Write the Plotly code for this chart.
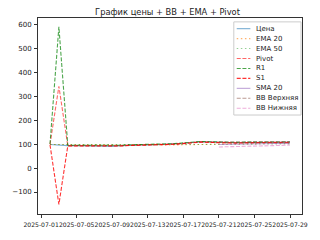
import plotly.graph_objects as go

dates = ["2025-07-%02d" % d for d in range(2, 30)]

price = [99, 96, 94, 94, 93.5, 93, 92, 91, 94, 96, 96.5, 97, 97.5, 99, 101, 104,
         107, 110, 109, 107, 106, 106, 107, 107, 108, 107, 108, 108]
ema20 = [99, 98.71, 98.26, 97.86, 97.44, 97.02, 96.54, 96.01, 95.82, 95.84, 95.90,
         96.00, 96.15, 96.42, 96.86, 97.54, 98.44, 99.54, 100.44, 101.06, 101.53,
         101.96, 102.44, 102.87, 103.36, 103.71, 104.12, 104.49]
ema50 = [99, 98.88, 98.69, 98.49, 98.29, 98.08, 97.85, 97.58, 97.44, 97.38, 97.35,
         97.34, 97.35, 97.41, 97.55, 97.80, 98.17, 98.64, 99.07, 99.39, 99.65, 99.91,
         100.19, 100.45, 100.75, 100.99, 101.25, 101.49]
pivot = [99, 342, 94, 94, 93.5, 93, 92, 91, 94, 96, 96.5, 97, 97.5, 99, 101, 104,
         107, 110, 109, 107, 106, 106, 107, 107, 108, 107, 108, 108]
r1 = [100.5, 591, 95.5, 95.5, 95, 94.5, 93.5, 92.5, 95.5, 97.5, 98, 98.5, 99, 100.5,
      102.5, 105.5, 108.5, 111.5, 110.5, 108.5, 107.5, 107.5, 108.5, 108.5, 109.5,
      108.5, 109.5, 109.5]
s1 = [97.5, -152, 92.5, 92.5, 92, 91.5, 90.5, 89.5, 92.5, 94.5, 95, 95.5, 96, 97.5,
      99.5, 102.5, 105.5, 108.5, 107.5, 105.5, 104.5, 104.5, 105.5, 105.5, 106.5,
      105.5, 106.5, 106.5]
bb_dates = dates[19:]
sma20 = [98.5, 98.9, 99.4, 100.0, 100.7, 101.4, 102.1, 102.9, 103.75]
bb_upper = [108.5, 108.8, 109.1, 109.4, 109.7, 110.0, 110.3, 110.6, 110.9]
bb_lower = [88.5, 89.0, 89.7, 90.6, 91.7, 92.8, 93.9, 95.2, 96.6]

xtick_vals = ["2025-07-01", "2025-07-05", "2025-07-09", "2025-07-13",
              "2025-07-17", "2025-07-21", "2025-07-25", "2025-07-29"]
ytick_vals = [-100, 0, 100, 200, 300, 400, 500, 600]

DASH = "4px,1.7px"
DOT = "1.5px,2.6px"

series = [
    ("Цена", dates, price, "rgba(31,119,180,0.6)", "solid"),
    ("EMA 20", dates, ema20, "rgba(255,127,14,0.6)", DOT),
    ("EMA 50", dates, ema50, "rgba(44,160,44,0.5)", DOT),
    ("Pivot", dates, pivot, "rgba(255,0,0,0.6)", DASH),
    ("R1", dates, r1, "rgba(0,128,0,0.7)", DASH),
    ("S1", dates, s1, "rgba(255,0,0,0.8)", DASH),
    ("SMA 20", bb_dates, sma20, "rgba(148,103,189,0.6)", "solid"),
    ("BB Верхняя", bb_dates, bb_upper, "rgba(140,86,75,0.6)", DASH),
    ("BB Нижняя", bb_dates, bb_lower, "rgba(227,119,194,0.6)", DASH),
]

fig = go.Figure()
for name, xs, ys, col, dash in series:
    fig.add_trace(go.Scatter(x=xs, y=ys, mode="lines", name=name, showlegend=False,
                             line=dict(color=col, width=1.1, dash=dash)))

# plot area in pixels
L, R, T, B = 32, 303, 18, 220
W, H = R - L, B - T


def px(x):
    return (x - L) / W


def py(y):
    return (B - y) / H


shapes = [dict(type="rect", xref="paper", yref="paper", x0=px(233), x1=px(302),
               y0=py(118), y1=py(22), line=dict(color="#cccccc", width=1),
               fillcolor="rgba(255,255,255,0.8)", layer="above")]
annotations = []
for i, (name, xs, ys, col, dash) in enumerate(series):
    yc = 29 + 10.25 * i
    shapes.append(dict(type="line", xref="paper", yref="paper", x0=px(236), x1=px(250),
                       y0=py(yc), y1=py(yc), line=dict(color=col, width=1.1, dash=dash),
                       layer="above"))
    annotations.append(dict(text=name, xref="paper", yref="paper", x=px(254), y=py(yc),
                            xanchor="left", yanchor="middle", showarrow=False,
                            font=dict(size=7, color="#222222")))

fig.update_layout(
    width=320, height=240,
    margin=dict(l=L, r=320 - R, t=T, b=240 - B),
    paper_bgcolor="white", plot_bgcolor="white",
    font=dict(family="DejaVu Sans", size=7, color="#222222"),
    title=dict(text="График цены + BB + EMA + Pivot", x=(L + R) / 2 / 320, xanchor="center",
               y=1 - 12 / 240, yanchor="middle", yref="container",
               font=dict(size=8.3, color="#222222")),
    shapes=shapes, annotations=annotations,
    showlegend=False,
)
fig.update_xaxes(range=["2025-06-30 15:36", "2025-07-30 08:24"], tickvals=xtick_vals,
                 ticktext=xtick_vals, tickangle=0, showgrid=False, zeroline=False,
                 showline=True, mirror=True, linecolor="#333333", linewidth=1,
                 ticks="outside", ticklen=3, tickcolor="#333333", tickfont=dict(size=6.1),
                 ticklabelstandoff=2)
fig.update_yaxes(range=[-192, 628], tickvals=ytick_vals, showgrid=False, zeroline=False,
                 showline=True, mirror=True, linecolor="#333333", linewidth=1,
                 ticks="outside", ticklen=3, tickcolor="#333333", tickfont=dict(size=7),
                 ticklabelstandoff=1)

fig.write_html("out.html")
